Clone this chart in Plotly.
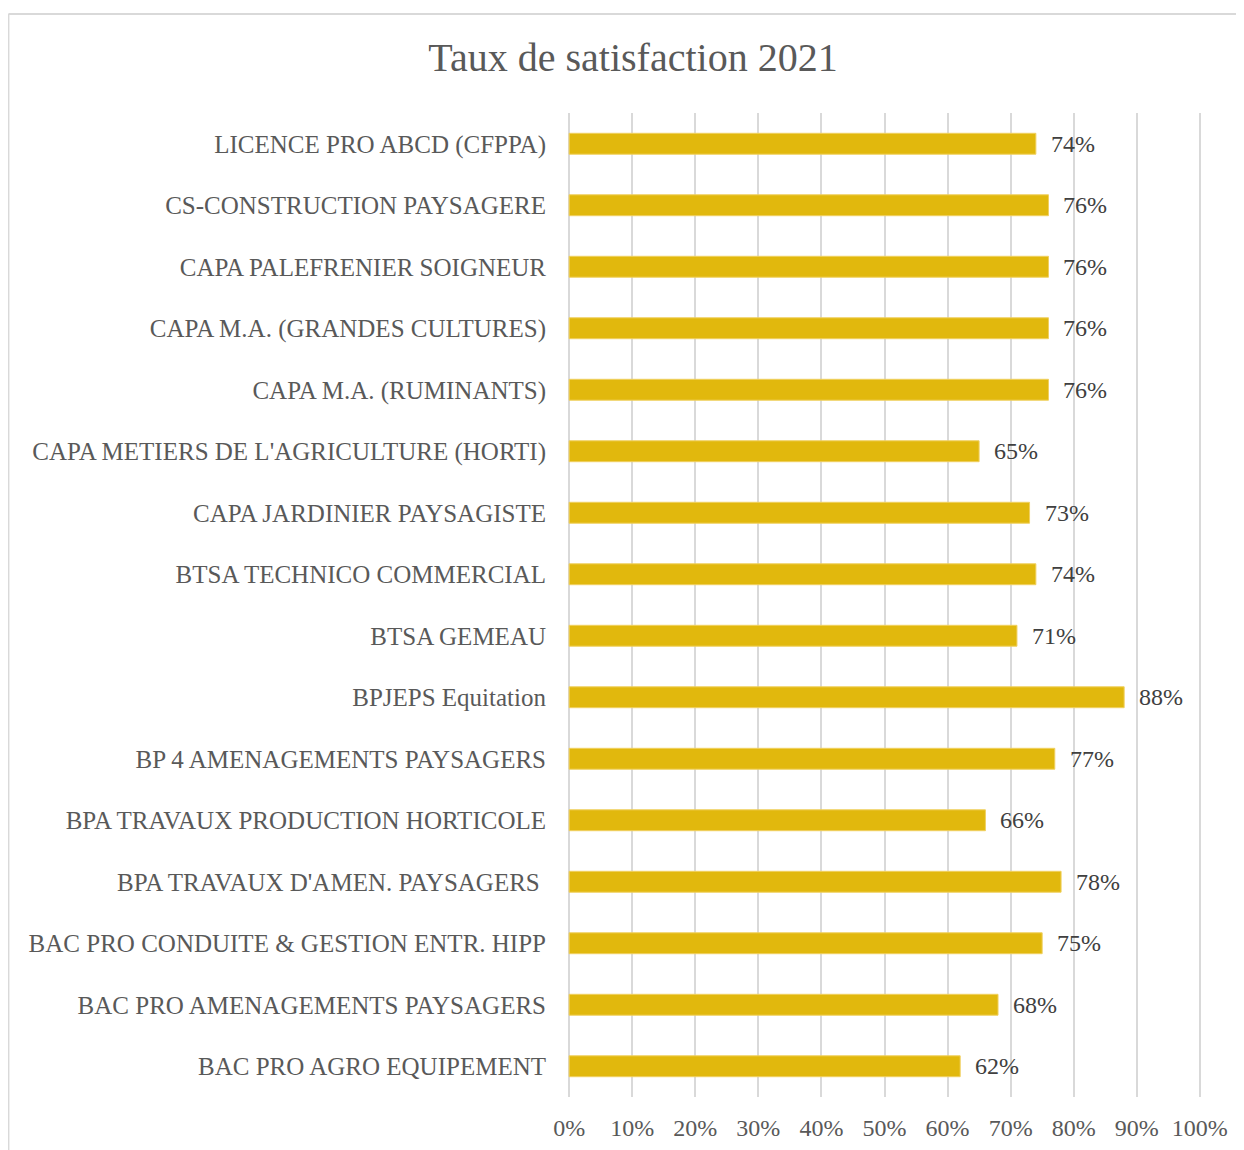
import plotly.graph_objects as go

categories = [
    "LICENCE PRO ABCD (CFPPA)",
    "CS-CONSTRUCTION PAYSAGERE",
    "CAPA PALEFRENIER SOIGNEUR",
    "CAPA M.A. (GRANDES CULTURES)",
    "CAPA M.A. (RUMINANTS)",
    "CAPA METIERS DE L'AGRICULTURE (HORTI)",
    "CAPA JARDINIER PAYSAGISTE",
    "BTSA TECHNICO COMMERCIAL",
    "BTSA GEMEAU",
    "BPJEPS Equitation",
    "BP 4 AMENAGEMENTS PAYSAGERS",
    "BPA TRAVAUX PRODUCTION HORTICOLE",
    "BPA TRAVAUX D'AMEN. PAYSAGERS ",
    "BAC PRO CONDUITE & GESTION ENTR. HIPP",
    "BAC PRO AMENAGEMENTS PAYSAGERS",
    "BAC PRO AGRO EQUIPEMENT",
]
values = [74, 76, 76, 76, 76, 65, 73, 74, 71, 88, 77, 66, 78, 75, 68, 62]
x_ticks = [0, 10, 20, 30, 40, 50, 60, 70, 80, 90, 100]
x_tick_labels = ["0%", "10%", "20%", "30%", "40%", "50%", "60%", "70%", "80%", "90%", "100%"]

FONT = "Liberation Serif"
OX, OY = 8, 8  # page body offset
W, H = 1244 - OX, 1150 - OY
PAD = 0.5  # x-range padding so edge gridlines are drawn
UNIT = (1200 - 569) / 100.0
L = 569 - OX - PAD * UNIT
R = 1200 - OX + PAD * UNIT
T, B = 113 - OY, 1097 - OY

fig = go.Figure()
fig.add_trace(go.Bar(
    x=values, y=categories, orientation="h",
    marker=dict(color="#E1B80D", line=dict(color="#F0D060", width=1)),
    width=0.34, hoverinfo="skip",
))

for c, v in zip(categories, values):
    fig.add_annotation(x=v, y=c, text=f"{v}%", showarrow=False,
                       xanchor="left", xshift=13, yshift=0,
                       font=dict(family=FONT, size=24, color="#404040"))

def px(xp):
    return (xp - OX - L) / (R - L)

def py(yp):
    return (B - (yp - OY)) / (B - T)

line_style = dict(color="#D9D9D9", width=2)
fig.add_shape(type="line", xref="paper", yref="paper",
              x0=px(8), x1=px(1260), y0=py(14), y1=py(14), line=line_style)
fig.add_shape(type="line", xref="paper", yref="paper",
              x0=px(8), x1=px(8), y0=py(14), y1=py(1160), line=line_style)

fig.update_layout(
    width=W, height=H,
    margin=dict(l=L, r=W - R, t=T, b=H - B, autoexpand=False),
    paper_bgcolor="white", plot_bgcolor="white",
    showlegend=False,
    title=dict(text="Taux de satisfaction 2021", x=(633 - OX) / W, xanchor="center",
               y=1 - (57 - OY) / H, yanchor="middle",
               font=dict(family=FONT, size=40, color="#595959")),
    xaxis=dict(range=[-PAD, 100 + PAD], tickvals=x_ticks, ticktext=x_tick_labels,
               showgrid=True, gridcolor="#D9D9D9", gridwidth=2,
               zeroline=False, showline=False, automargin=False,
               ticks="", ticklabelstandoff=14,
               tickfont=dict(family=FONT, size=24, color="#595959")),
    yaxis=dict(categoryorder="array", categoryarray=categories[::-1],
               showgrid=False, zeroline=False, showline=False, automargin=False,
               ticks="", ticklabelstandoff=19,
               tickfont=dict(family=FONT, size=25, color="#595959")),
)

fig.write_html("out.html")
